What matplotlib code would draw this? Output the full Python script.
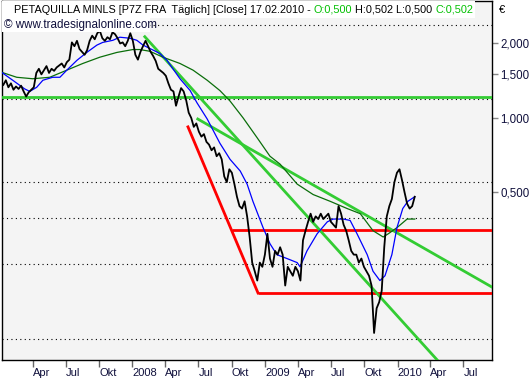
import numpy as np
import pandas as pd
import matplotlib
matplotlib.use("Agg")
import matplotlib.pyplot as plt
from matplotlib.patches import Rectangle

plt.rcParams['font.family'] = ['Liberation Sans', 'DejaVu Sans']

W, H = 530, 380

# weekly closes (EUR)
price = [1.36, 1.42, 1.33, 1.38, 1.30, 1.34, 1.31, 1.35, 1.28, 1.22,
         1.27, 1.30, 1.33, 1.52, 1.58, 1.50, 1.56, 1.62, 1.52, 1.58,
         1.55, 1.60, 1.63, 1.66, 1.60, 1.68, 1.72, 2.02, 1.95, 2.05,
         1.90, 1.85, 1.80, 1.88, 2.05, 2.15, 2.08, 2.20, 2.25, 2.10,
         2.05, 2.12, 2.08, 2.22, 2.18, 2.10, 2.00, 2.02, 1.95, 2.05,
         2.20, 2.05, 1.80, 1.72, 1.85, 1.95, 2.05, 1.95, 1.85, 1.78,
         1.70, 1.58, 1.55, 1.52, 1.48, 1.38, 1.30, 1.28, 1.12, 1.22,
         1.32, 1.28, 1.18, 1.05, 1.00, 0.92, 0.95, 0.88, 0.84, 0.86,
         0.80, 0.78, 0.74, 0.76, 0.70, 0.72, 0.68, 0.58, 0.55, 0.62,
         0.60, 0.54, 0.48, 0.44, 0.43, 0.46, 0.40, 0.33, 0.26, 0.24,
         0.22, 0.26, 0.25, 0.28, 0.34, 0.27, 0.25, 0.29, 0.28, 0.30,
         0.28, 0.21, 0.25, 0.24, 0.23, 0.25, 0.24, 0.22, 0.32, 0.35,
         0.38, 0.41, 0.38, 0.40, 0.39, 0.41, 0.39, 0.40, 0.41, 0.38,
         0.37, 0.36, 0.44, 0.41, 0.37, 0.35, 0.32, 0.29, 0.28, 0.28,
         0.26, 0.27, 0.25, 0.24, 0.23, 0.21, 0.135, 0.17, 0.18, 0.20,
         0.30, 0.40, 0.44, 0.47, 0.55, 0.60, 0.62, 0.56, 0.50, 0.45,
         0.43, 0.44, 0.48]
dates = pd.date_range(end="2010-02-17", periods=len(price), freq="7D")

# short moving average (blue)
ma_fast_dates = ["2007-01-05", "2007-02-05", "2007-03-10", "2007-03-24", "2007-04-12",
                 "2007-04-29", "2007-05-26", "2007-06-15", "2007-07-04", "2007-08-01",
                 "2007-08-28", "2007-09-25", "2007-10-11", "2007-11-08", "2007-11-27",
                 "2007-12-25", "2008-01-13", "2008-01-30", "2008-02-27", "2008-03-17",
                 "2008-04-05", "2008-05-11", "2008-06-08", "2008-06-27", "2008-07-25",
                 "2008-08-29", "2008-09-26", "2008-10-24", "2008-11-12", "2008-11-28",
                 "2008-12-26", "2009-01-14", "2009-02-02", "2009-03-02", "2009-03-30",
                 "2009-04-07", "2009-04-26", "2009-05-24", "2009-06-21", "2009-07-07",
                 "2009-08-04", "2009-08-23", "2009-09-11", "2009-10-09", "2009-10-25",
                 "2009-11-13", "2009-11-27", "2009-12-16", "2009-12-30", "2010-01-15",
                 "2010-01-29", "2010-02-17"]
ma_fast = [1.53, 1.42, 1.31, 1.28, 1.33, 1.42, 1.46, 1.46, 1.56, 1.71,
           1.84, 1.97, 2.02, 2.06, 2.12, 2.10, 2.06, 1.97, 1.88, 1.82,
           1.71, 1.44, 1.29, 1.15, 0.99, 0.79, 0.68, 0.61, 0.54, 0.46,
           0.36, 0.31, 0.28, 0.27, 0.26, 0.25, 0.29, 0.34, 0.38, 0.39,
           0.39, 0.385, 0.34, 0.28, 0.24, 0.22, 0.23, 0.28, 0.36, 0.43,
           0.46, 0.48]

# long moving average (dark green)
ma_slow_dates = ["2007-01-05", "2007-02-16", "2007-04-01", "2007-05-18", "2007-07-04",
                 "2007-08-17", "2007-10-03", "2007-11-19", "2008-01-02", "2008-01-21",
                 "2008-02-18", "2008-03-25", "2008-05-11", "2008-06-16", "2008-07-25",
                 "2008-08-29", "2008-09-26", "2008-11-01", "2008-12-10", "2009-01-14",
                 "2009-02-11", "2009-03-30", "2009-05-13", "2009-06-29", "2009-08-15",
                 "2009-09-20", "2009-10-25", "2009-11-22", "2009-12-06", "2009-12-30",
                 "2010-01-27", "2010-02-17"]
ma_slow = [1.53, 1.46, 1.44, 1.46, 1.56, 1.66, 1.76, 1.84, 1.89, 1.89,
           1.86, 1.76, 1.66, 1.56, 1.42, 1.29, 1.17, 1.00, 0.83, 0.70,
           0.65, 0.54, 0.49, 0.46, 0.43, 0.41, 0.35, 0.33, 0.34, 0.36,
           0.39, 0.39]

# drawn trend lines: (start date, start value, end date, end value)
support_level = 1.216
red_trend = ("2008-06-02", 0.92, "2008-12-12", 0.196)
red_levels = [("2008-10-02", 0.352), ("2008-12-12", 0.196)]
green_trends = [("2008-02-04", 2.13, "2010-04-20", 0.105),
                ("2008-06-29", 0.99, "2010-09-18", 0.207)]

grid_levels = [2.38, 1.19, 0.551, 0.394, 0.256, 0.128]
ytick_vals = [2.0, 1.5, 1.0, 0.5]
ytick_labels = ["2,000", "1,500", "1,000", "0,500"]
xtick_dates = pd.date_range("2007-04-01", "2010-07-01", freq="QS")
xtick_labels = ["Apr", "Jul", "Okt", "2008", "Apr", "Jul", "Okt", "2009",
                "Apr", "Jul", "Okt", "2010", "Apr", "Jul"]

x_start, x_end = pd.Timestamp("2007-01-05"), pd.Timestamp("2010-09-18")
y_low, y_high = 0.105, 2.97

navy = "#10103c"
lime = "#33cc33"

fig = plt.figure(figsize=(W / 100, H / 100), dpi=100)
ax = fig.add_axes([1.5 / W, 20 / H, 490.5 / W, 359 / H])
ax.set_facecolor("#f4f4f4")
ax.set_yscale("log")
ax.set_xlim(x_start, x_end)
ax.set_ylim(y_low, y_high)

for lv in grid_levels:
    ax.axhline(lv, color="black", lw=0.8, ls=(0, (1, 3)), zorder=1)

ax.axhline(support_level, color=lime, lw=2, zorder=3)
for d, v in red_levels:
    ax.plot([pd.Timestamp(d), x_end], [v, v], color="red", lw=2, zorder=3,
            solid_capstyle="butt")
ax.plot([pd.Timestamp(red_trend[0]), pd.Timestamp(red_trend[2])],
        [red_trend[1], red_trend[3]], color="red", lw=2, zorder=3)
for d0, v0, d1, v1 in green_trends:
    ax.plot([pd.Timestamp(d0), pd.Timestamp(d1)], [v0, v1], color=lime, lw=2,
            zorder=3)

ax.plot(pd.to_datetime(ma_slow_dates), ma_slow, color="#0a6e0a", lw=0.9, zorder=4)
ax.plot(pd.to_datetime(ma_fast_dates), ma_fast, color="#0000ff", lw=0.9, zorder=4)
ax.plot(dates, price, color="black", lw=1.3, zorder=5)

for s in ax.spines.values():
    s.set_color("black")
    s.set_linewidth(1)

ax.yaxis.tick_right()
ax.yaxis.set_minor_locator(matplotlib.ticker.NullLocator())
ax.set_yticks(ytick_vals)
ax.set_yticklabels(ytick_labels)
ax.tick_params(axis="y", which="major", length=4, width=1, color="#888888",
               labelsize=8.3, labelcolor=navy, pad=2)

ax.set_xticks(xtick_dates)
ax.set_xticklabels(xtick_labels)
ax.tick_params(axis="x", length=5, width=1, color="#666666", labelsize=8,
               labelcolor=navy, pad=1, direction="out")
for lab in ax.get_xticklabels():
    lab.set_horizontalalignment("left")

# title strip and copyright
fig.add_artist(Rectangle((2 / W, 1 - 18 / H), 473 / W, 17 / H,
                         transform=fig.transFigure, facecolor="white",
                         edgecolor="none", zorder=10))
fig.add_artist(Rectangle((2 / W, 1 - 32 / H), 148 / W, 14 / H,
                         transform=fig.transFigure, facecolor="white",
                         edgecolor="none", zorder=10))

pieces = [("PETAQUILLA MINLS [P7Z FRA  Täglich] [Close] 17.02.2010 - ", "black"),
          ("O:0,500", "#00c000"),
          (" H:0,502 L:0,500 ", "black"),
          ("C:0,502", "#00c000")]
renderer = fig.canvas.get_renderer()
xpos = 14
for txt, col in pieces:
    t = fig.text(xpos / W, 1 - 10 / H, txt, color=col, fontsize=7.8, va="center",
                 ha="left", zorder=11)
    xpos += t.get_window_extent(renderer).width

fig.text(4 / W, 1 - 25 / H, "© www.tradesignalonline.com", fontsize=8.4,
         color=navy, va="center", ha="left", zorder=11)
fig.text(499 / W, 1 - 10 / H, "€", fontsize=8, color="black", va="center",
         ha="left")

fig.savefig("out.png", dpi=100)
